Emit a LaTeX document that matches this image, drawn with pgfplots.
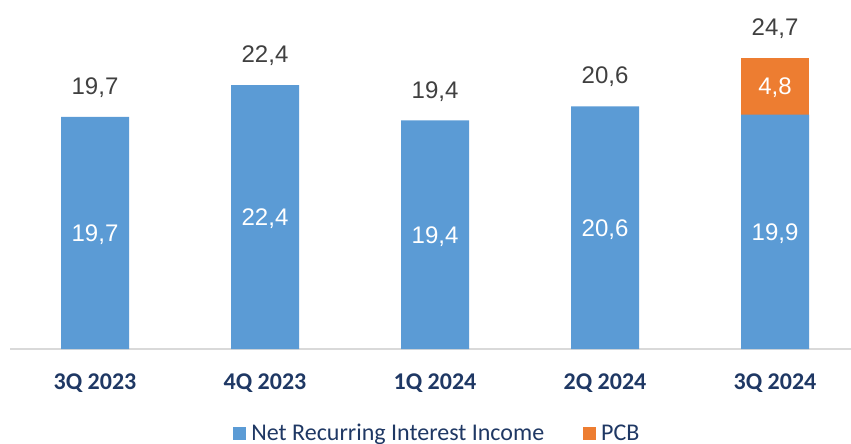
\documentclass[border=0pt]{standalone}
\usepackage{fontspec}
\setmainfont{Carlito}
\newfontfamily\arial{Liberation Sans}
\usepackage{pgfplots}
\pgfplotsset{compat=1.18}
\definecolor{nrii}{HTML}{5B9BD5}
\definecolor{pcb}{HTML}{ED7D31}
\definecolor{navy}{HTML}{1F3864}
\definecolor{valgray}{HTML}{404040}
\definecolor{axgray}{HTML}{D9D9D9}

\begin{document}
\begin{tikzpicture}
\begin{axis}[
  at={(0,0)}, anchor=south west, scale only axis,
  width=841pt, height=349pt,
  xmin=-0.5, xmax=4.447, ymin=0, ymax=29.63,
  ybar stacked, bar width=0.4,
  axis x line=bottom, axis y line=none,
  axis line style={axgray, line width=1.5pt, -},
  xtick={0,1,2,3,4},
  xticklabels={3Q 2023,4Q 2023,1Q 2024,2Q 2024,3Q 2024},
  major tick length=0pt,
  xticklabel style={font=\fontsize{24}{28}\selectfont\bfseries, text=navy,
                    anchor=base, yshift=-40pt},
  legend style={at={(0.510,-0.241)}, anchor=center, draw=none, fill=none,
                legend columns=2, font=\fontsize{24}{28}\selectfont, text=navy,
                /tikz/every even column/.append style={column sep=34pt},
                nodes={inner xsep=5pt}},
  legend image code/.code={\fill[#1] (0pt,-6.5pt) rectangle (13pt,6.5pt);},
  clip=false,
]
% net recurring interest income
\addplot[fill=nrii, draw=none]
  coordinates {(0,19.7) (1,22.4) (2,19.4) (3,20.6) (4,19.9)};
\addlegendentry{Net Recurring Interest Income}
% PCB
\addplot[fill=pcb, draw=none]
  coordinates {(0,0) (1,0) (2,0) (3,0) (4,4.8)};
\addlegendentry{PCB}

% anchor points for the labels inside the bars (drawn after the axis)
\coordinate (in0) at (axis cs:0,9.85);
\coordinate (in1) at (axis cs:1,11.2);
\coordinate (in2) at (axis cs:2,9.7);
\coordinate (in3) at (axis cs:3,10.3);
\coordinate (in4) at (axis cs:4,9.95);
\coordinate (in5) at (axis cs:4,22.3);
% totals above
\foreach \x/\y/\t in {0/19.7/19{,}7, 1/22.4/22{,}4, 2/19.4/19{,}4, 3/20.6/20{,}6, 4/24.7/24{,}7}{
  \edef\tmp{\noexpand\node[font=\noexpand\arial\noexpand\fontsize{24}{28}\noexpand\selectfont,
    text=valgray, anchor=base, yshift=22.4pt] at (axis cs:\x,\y) {\t};}
  \tmp
}
\end{axis}
\foreach \n/\t in {in0/19{,}7, in1/22{,}4, in2/19{,}4, in3/20{,}6, in4/19{,}9, in5/4{,}8}
  \node[font=\arial\fontsize{24}{28}\selectfont, text=white, anchor=base, yshift=-8.6pt]
    at (\n) {\t};
\pgfresetboundingbox
\path[use as bounding box] (-10pt,-95pt) rectangle (841pt,349pt);
\end{tikzpicture}
\end{document}
